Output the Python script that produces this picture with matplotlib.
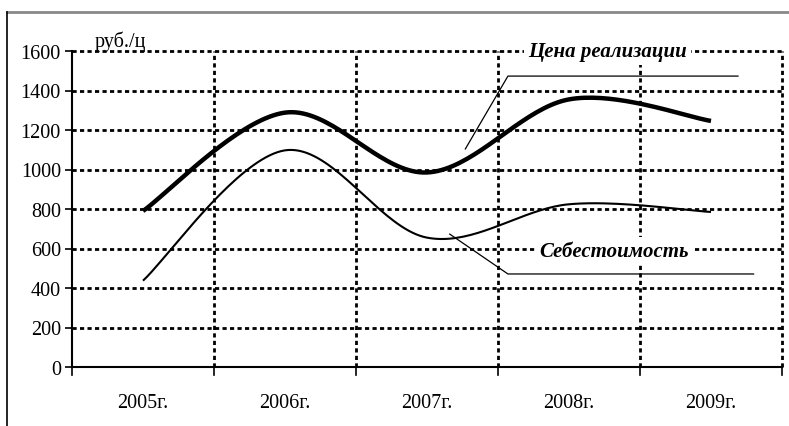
import numpy as np
import matplotlib.pyplot as plt
from matplotlib.lines import Line2D

plt.rcParams['font.family'] = ['Liberation Serif', 'DejaVu Serif']

years = ['2005г.', '2006г.', '2007г.', '2008г.', '2009г.']
price = [790, 1288, 985, 1355, 1246]   # Цена реализации
cost = [437, 1097, 655, 824, 785]      # Себестоимость


def smooth(x, y, n=40):
    # Excel-style smoothed line (Catmull-Rom through the points)
    x = np.asarray(x, float)
    y = np.asarray(y, float)
    px = np.r_[x[0], x, x[-1]]
    py = np.r_[y[0], y, y[-1]]
    xs, ys = [], []
    t = np.linspace(0, 1, n)
    for i in range(1, len(x)):
        p0, p1, p2, p3 = [np.array([px[j], py[j]]) for j in (i - 1, i, i + 1, i + 2)]
        c1 = p1 + (p2 - p0) / 6
        c2 = p2 - (p3 - p1) / 6
        pts = ((1 - t) ** 3)[:, None] * p1 + (3 * (1 - t) ** 2 * t)[:, None] * c1 \
            + (3 * (1 - t) * t ** 2)[:, None] * c2 + (t ** 3)[:, None] * p2
        xs.append(pts[:, 0])
        ys.append(pts[:, 1])
    return np.concatenate(xs), np.concatenate(ys)


fig = plt.figure(figsize=(7.89, 4.27), dpi=100)
ax = fig.add_axes([72 / 789, 1 - 368 / 427, 710 / 789, 316 / 427])

x = np.arange(len(years))
grid = dict(color='black', lw=2.0, ls=(0, (1.5, 1.2)), zorder=1, clip_on=False)
for v in range(200, 1601, 200):
    ax.axhline(v, **grid)
for b in np.arange(0.5, len(years), 1.0):
    ax.axvline(b, **grid)

sx, sy = smooth(x, price)
ax.plot(sx, sy, color='black', lw=3.2, zorder=3, solid_capstyle='butt')
sx, sy = smooth(x, cost)
ax.plot(sx, sy, color='black', lw=1.5, zorder=3, solid_capstyle='butt')

ax.set_xlim(-0.5, len(years) - 0.5)
ax.set_ylim(0, 1600)
ax.set_yticks(range(0, 1601, 200))
ax.set_xticks(np.arange(-0.5, len(years), 1.0))
ax.set_xticklabels([])
ax.set_xticks(x, minor=True)
ax.set_xticklabels(years, minor=True)
ax.tick_params(axis='x', which='minor', length=0, pad=19, labelsize=14.5)
ax.tick_params(axis='x', which='major', direction='in', length=0)
ax.tick_params(axis='y', direction='out', length=5, width=1.2, labelsize=14.5, pad=3)
for b in np.arange(-0.5, len(years), 1.0):
    ax.plot([b, b], [0, -38], color='black', lw=1.2, clip_on=False, zorder=4)
for s in ['top', 'right']:
    ax.spines[s].set_visible(False)
ax.spines['left'].set_linewidth(1.5)
ax.spines['bottom'].set_linewidth(1.5)

ax.text(-0.34, 1600, 'руб./ц', fontsize=14.5, va='bottom', ha='left')

# leader lines and labels
ax.plot([2.27, 2.57, 4.19], [1104, 1473, 1473], color='black', lw=0.9, zorder=4)
ax.plot([2.16, 2.57, 4.30], [673, 471, 471], color='black', lw=0.9, zorder=4)
ax.text(3.27, 1600, 'Цена реализации', fontsize=15, fontweight='bold', style='italic',
        ha='center', va='center', zorder=5,
        bbox=dict(facecolor='white', edgecolor='none', pad=3))
ax.text(3.32, 588, 'Себестоимость', fontsize=15, fontweight='bold', style='italic',
        ha='center', va='center', zorder=5,
        bbox=dict(facecolor='white', edgecolor='none', pad=3))

# outer frame
fig.add_artist(Line2D([7 / 789, 1], [1 - 13 / 427] * 2, color='#888888', lw=2))
fig.add_artist(Line2D([7 / 789] * 2, [0, 1 - 13 / 427], color='black', lw=1.2))

fig.savefig('out.png', dpi=100)
